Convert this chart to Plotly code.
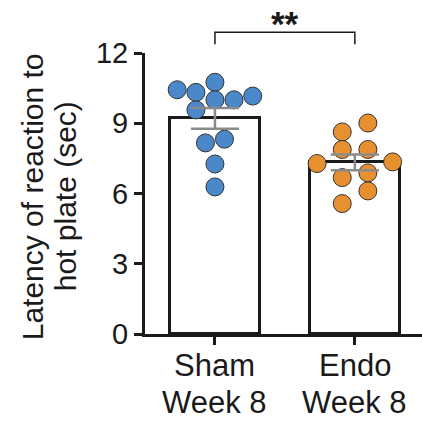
import numpy as np
import plotly.graph_objects as go

# ---- data ----
cat_line1 = ["Sham", "Endo"]
cat_line2 = ["Week 8", "Week 8"]
sham_values = [10.75, 10.43, 10.32, 10.16, 10.0, 10.0, 9.57, 8.16, 8.32, 7.26, 6.28]
endo_values = [8.63, 9.01, 7.88, 7.88, 7.28, 7.35, 6.68, 6.88, 6.11, 5.57]
# horizontal swarm offsets (category units)
sham_jitter = [0, -0.27, -0.136, 0.27, 0, 0.136, -0.136, -0.068, 0.068, 0, 0]
endo_jitter = [-0.09, 0.093, -0.09, 0.093, -0.27, 0.27, -0.09, 0.093, 0.093, -0.09]
y_ticks = [0, 3, 6, 9, 12]
sig_label = "**"
y_title_lines = ["Latency of reaction to", "hot plate (sec)"]

groups = [sham_values, endo_values]
jitters = [sham_jitter, endo_jitter]
colors = ["#4a88c9", "#e8902f"]

means = [float(np.mean(g)) for g in groups]
sems = [float(np.std(g, ddof=1) / np.sqrt(len(g))) for g in groups]

FONT = "Liberation Sans, Arial, sans-serif"
INK = "#1a1a1a"
fig = go.Figure()

# bars
fig.add_trace(go.Bar(
    x=[0, 1], y=means, width=0.64,
    marker=dict(color="white", line=dict(color=INK, width=3)),
    showlegend=False, hoverinfo="skip"))

# points
for i, (vals, jit, col) in enumerate(zip(groups, jitters, colors)):
    fig.add_trace(go.Scatter(
        x=[i + j for j in jit], y=vals, mode="markers",
        marker=dict(size=18, color=col, line=dict(color="#333333", width=1)),
        cliponaxis=False, showlegend=False))

# error bars (mean ± SEM)
fig.add_trace(go.Scatter(
    x=[0, 1], y=means, mode="markers",
    marker=dict(size=1, color="rgba(0,0,0,0)"),
    error_y=dict(type="data", array=sems, visible=True,
                 color="#8a8a8a", thickness=2.5, width=24),
    cliponaxis=False, showlegend=False))

# significance bracket (paper coords derived from y range)
ymax = y_ticks[-1]
b_top, b_leg = 12.89, 12.37
fig.add_shape(type="path", xref="x", yref="paper",
              path=f"M 0 {b_leg/ymax} L 0 {b_top/ymax} L 1 {b_top/ymax} L 1 {b_leg/ymax}",
              line=dict(color=INK, width=1.5))
fig.add_annotation(x=0.5, y=b_top / ymax, xref="x", yref="paper", text="<b>" + sig_label + "</b>",
                   showarrow=False, yanchor="bottom", yshift=-13,
                   font=dict(size=35, color=INK, family=FONT))

# category labels (two lines)
for i in range(2):
    fig.add_annotation(x=i, y=0, xref="x", yref="paper", text=cat_line1[i],
                       showarrow=False, yanchor="middle", yshift=-31,
                       font=dict(size=31, color=INK, family=FONT))
    fig.add_annotation(x=i, y=0, xref="x", yref="paper", text=cat_line2[i],
                       showarrow=False, yanchor="middle", yshift=-68,
                       font=dict(size=31, color=INK, family=FONT))

# y-axis title (two rotated lines)
for xp, line in zip([-0.408, -0.289], y_title_lines):
    fig.add_annotation(x=xp, y=0.49, xref="paper", yref="paper", text=line,
                       textangle=-90, showarrow=False, xanchor="center", yanchor="middle",
                       font=dict(size=30, color=INK, family=FONT))

fig.update_layout(
    width=422, height=421,
    margin=dict(l=145, r=0, t=53, b=87),
    plot_bgcolor="white", paper_bgcolor="white",
    font=dict(family=FONT, size=29, color=INK),
    bargap=0,
)
fig.update_xaxes(
    range=[-0.5, 1.48], tickmode="array", tickvals=[0, 1], showticklabels=False,
    showline=True, linecolor=INK, linewidth=3,
    ticks="outside", ticklen=8, tickwidth=2.5, tickcolor=INK,
    showgrid=False, zeroline=False)
fig.update_yaxes(
    range=[0, ymax], tickmode="array", tickvals=y_ticks,
    showline=True, linecolor=INK, linewidth=3,
    ticks="outside", ticklen=8, tickwidth=2.5, tickcolor=INK,
    showgrid=False, zeroline=False, tickfont=dict(size=29))

fig.write_html("out.html")
